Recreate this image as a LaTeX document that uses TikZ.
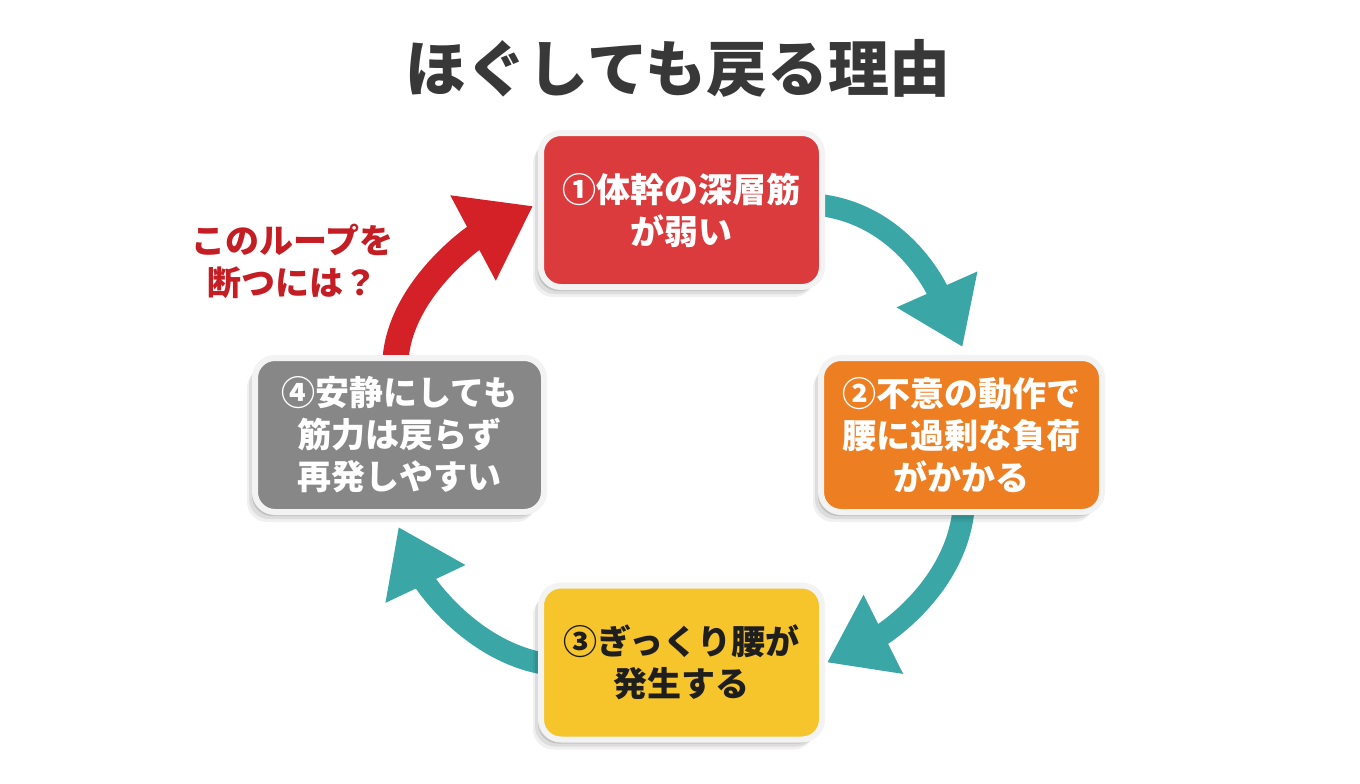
\documentclass[tikz,border=0pt]{standalone}
\usepackage{fontspec}
\setmainfont{Noto Sans CJK JP}
\usetikzlibrary{arrows.meta,shadows,backgrounds,calc}
\definecolor{boxred}{HTML}{DC3B3E}
\definecolor{boxorange}{HTML}{EE7E22}
\definecolor{boxyellow}{HTML}{F6C42B}
\definecolor{boxgray}{HTML}{878787}
\definecolor{tealc}{HTML}{3BA6A6}
\definecolor{arrred}{HTML}{D42128}
\definecolor{titlegray}{HTML}{383838}
\definecolor{labelred}{HTML}{C41E24}
\definecolor{rimgray}{HTML}{F3F3F3}
\definecolor{darktext}{HTML}{1E1E1E}
\begin{document}
\begin{tikzpicture}[x=1pt,y=-1pt,
  card/.style={rounded corners=20pt, draw=rimgray, line width=6pt, align=center,
    text=white, font=\bfseries\fontsize{34}{42}\selectfont, inner sep=0pt,
    minimum width=281pt, minimum height=154pt,
    drop shadow={shadow xshift=-8pt, shadow yshift=-10pt, opacity=0.06, fill=black},
    drop shadow={shadow xshift=-6pt, shadow yshift=-7pt, opacity=0.08, fill=black},
    drop shadow={shadow xshift=-3pt, shadow yshift=-4pt, opacity=0.12, fill=black}},
  flow/.style={line width=22pt, draw=tealc, -{Triangle[length=63pt 0 0,width=84pt 0 0]}},
  breakflow/.style={line width=26pt, draw=arrred, -{Triangle[length=68pt 0 0,width=92pt 0 0]}},
  bigtitle/.style={font=\bfseries\fontsize{61}{72}\selectfont, text=titlegray},
  redlabel/.style={align=center, text=labelred, font=\bfseries\fontsize{34}{42}\selectfont}
]
\useasboundingbox (0,0) rectangle (1360,784);
\begin{scope}[on background layer]
  \fill[white] (0,0) rectangle (1360,784);
\end{scope}

\node[bigtitle] (title) at (678,68) {ほぐしても戻る理由};

\node[card, fill=boxred] (b1) at (681.5,210) {①体幹の深層筋\\が弱い};
\node[card, fill=boxorange] (b2) at (961.5,435) {②不意の動作で\\腰に過剰な負荷\\がかかる};
\node[card, fill=boxyellow, text=darktext] (b3) at (681.5,662.5) {③ぎっくり腰が\\発生する};
\node[card, fill=boxgray, minimum width=289pt] (b4) at (399.5,435) {④安静にしても\\筋力は戻らず\\再発しやすい};

\node[redlabel] (q) at (292,261) {このループを\\断つには？};

\begin{scope}[on background layer]
  \draw[flow] ($(b1.east)+(-5,-5)$) .. controls (900,215) and (935,285) .. ($(b2.north)+(1,-8)$);
  \draw[flow] ($(b2.south)+(2,-5)$) .. controls (955,590) and (880,636) .. ($(b3.east)+(2,0)$);
  \draw[flow] ($(b3.west)+(5,1)$) .. controls (470,650) and (425,583) .. ($(b4.south)+(-1,12)$);
  \draw[breakflow] ($(b4.north)+(-4,5)$) .. controls (400,290) and (473,238) .. ($(b1.west)+(-5,-4)$);
\end{scope}
\end{tikzpicture}
\end{document}
